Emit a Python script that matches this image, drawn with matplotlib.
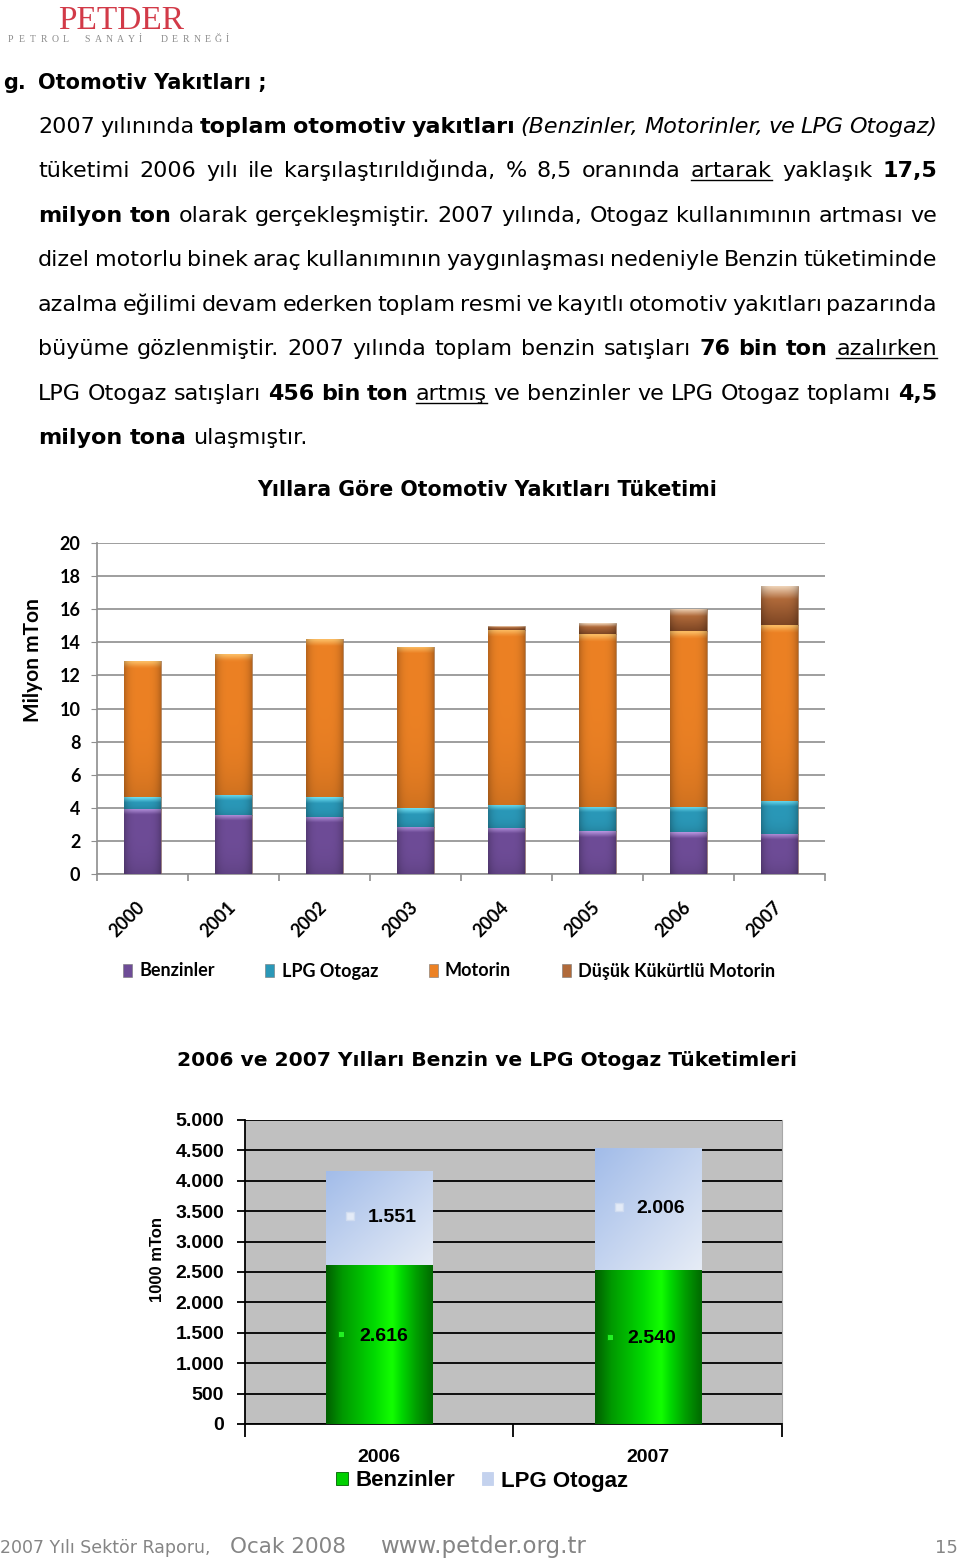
import matplotlib
matplotlib.use("Agg")
import matplotlib.pyplot as plt
import numpy as np
from matplotlib import font_manager as fm
from matplotlib.patches import Patch
from matplotlib.lines import Line2D
from matplotlib.colors import to_rgb
from matplotlib.transforms import offset_copy

# --- veri: grafik 1 (milyon ton) ---
yillar = ['2000', '2001', '2002', '2003', '2004', '2005', '2006', '2007']
benzinler = [3.93, 3.57, 3.47, 2.86, 2.78, 2.58, 2.52, 2.42]
lpg_otogaz = [0.71, 1.21, 1.17, 1.13, 1.39, 1.49, 1.55, 2.02]
motorin = [8.20, 8.51, 9.53, 9.74, 10.59, 10.45, 10.61, 10.58]
dusuk_kukurtlu = [0.0, 0.0, 0.0, 0.0, 0.22, 0.64, 1.35, 2.36]

# --- veri: grafik 2 (1000 ton) ---
yillar_2 = ['2006', '2007']
benzin_2 = [2616, 2540]
lpg_2 = [1551, 2006]

W, H = 960, 1560


def fx(x):
    return x / W


def fy(y):
    return 1 - y / H


def has_font(name):
    try:
        fm.findfont(fm.FontProperties(family=name), fallback_to_default=False)
        return True
    except Exception:
        return False


if has_font('Liberation Sans Narrow'):
    body_font, size0 = 'Liberation Sans Narrow', 19.0
elif has_font('DejaVu Sans Condensed'):
    body_font, size0 = 'DejaVu Sans Condensed', 16.0
else:
    body_font, size0 = 'DejaVu Sans', 16.0
calibri = 'Lato' if has_font('Lato') else 'DejaVu Sans'
arial = 'Liberation Sans' if has_font('Liberation Sans') else 'DejaVu Sans'
serif = 'Liberation Serif' if has_font('Liberation Serif') else 'DejaVu Serif'

fig = plt.figure(figsize=(9.6, 15.6), dpi=100)
renderer = fig.canvas.get_renderer()

# --- logo ---
fig.text(fx(58), fy(29), 'PETDER', family=serif, fontsize=24, color='#d23a48', va='baseline')
alt = 'PETROL SANAYİ DERNEĞİ'
for i, ch in enumerate(alt):
    fig.text(fx(8 + i * 10.9), fy(42), ch, family=serif, fontsize=7, color='#8c8c8c', va='baseline')

# --- başlık + metin ---
satirlar = [
    [('2007 yılınında', ''), ('toplam otomotiv yakıtları', 'b'),
     ('(Benzinler, Motorinler, ve LPG Otogaz)', 'i')],
    [('tüketimi 2006 yılı ile karşılaştırıldığında, % 8,5 oranında', ''), ('artarak', 'u'),
     ('yaklaşık', ''), ('17,5', 'b')],
    [('milyon ton', 'b'), ('olarak gerçekleşmiştir. 2007 yılında, Otogaz kullanımının artması ve', '')],
    [('dizel motorlu binek araç kullanımının yaygınlaşması nedeniyle Benzin tüketiminde', '')],
    [('azalma eğilimi devam ederken toplam resmi ve kayıtlı otomotiv yakıtları pazarında', '')],
    [('büyüme gözlenmiştir. 2007 yılında toplam benzin satışları', ''), ('76 bin ton', 'b'),
     ('azalırken', 'u')],
    [('LPG Otogaz satışları', ''), ('456 bin ton', 'b'), ('artmış', 'u'),
     ('ve benzinler ve LPG Otogaz toplamı', ''), ('4,5', 'b')],
    [('milyon tona', 'b'), ('ulaşmıştır.', '')],
]
satir_y = [124, 168, 213, 257, 302, 346, 391, 435]
X0, X1 = 38, 937


def kelime_yaz(word, st, size):
    return fig.text(0, 0, word, fontsize=size, family=body_font,
                    weight='bold' if 'b' in st else 'normal',
                    style='italic' if 'i' in st else 'normal', va='baseline', ha='left')


def kelimeler(parts):
    out = []
    for txt, st in parts:
        for w in txt.split():
            out.append((w, st))
    return out


# yazı boyutunu en uzun satıra göre ayarla
size = size0
probe = kelime_yaz('a a', '', size)
probe2 = kelime_yaz('aa', '', size)
bosluk = probe.get_window_extent(renderer).width - probe2.get_window_extent(renderer).width
probe.remove()
probe2.remove()
enuzun = 0
for parts in satirlar[:-1]:
    ws = kelimeler(parts)
    ts = [kelime_yaz(w, st, size) for w, st in ws]
    tot = sum(t.get_window_extent(renderer).width for t in ts) + bosluk * 0.6 * (len(ts) - 1)
    enuzun = max(enuzun, tot)
    for t in ts:
        t.remove()
if enuzun > (X1 - X0):
    size *= (X1 - X0) / enuzun

for k, parts in enumerate(satirlar):
    ws = kelimeler(parts)
    base = satir_y[k] + 9
    ts = [kelime_yaz(w, st, size) for w, st in ws]
    wid = [t.get_window_extent(renderer).width for t in ts]
    if k < len(satirlar) - 1:
        gap = (X1 - X0 - sum(wid)) / (len(ts) - 1)
    else:
        gap = bosluk * size / size0
    x = X0
    for t, w, (word, st) in zip(ts, wid, ws):
        t.set_position((fx(x), fy(base)))
        if 'u' in st:
            fig.add_artist(Line2D([fx(x), fx(x + w)], [fy(base + 3)] * 2, color='black', lw=1))
        x += w + gap

fig.text(fx(3), fy(89), 'g.', family='DejaVu Sans', weight='bold', fontsize=15, va='baseline')
fig.text(fx(38), fy(89), 'Otomotiv Yakıtları ;', family='DejaVu Sans', weight='bold', fontsize=15,
         va='baseline')


def golgele(ax, patch, base, light, ppu, bevel=6, full=False, dark=None):
    x0, y0 = patch.get_x(), patch.get_y()
    w, h = patch.get_width(), patch.get_height()
    if h <= 0:
        return
    n = 80
    rows = np.linspace(0, 1, n)
    b = np.array(to_rgb(base))
    l = np.array(to_rgb(light))
    if full:
        d = np.array(to_rgb(dark))
        t = rows[:, None]
        col = np.where(t < 0.35, l * (1 - t / 0.35) + b * (t / 0.35),
                       b * (1 - (t - 0.35) / 0.65) + d * ((t - 0.35) / 0.65))
    else:
        frac = min(0.45, bevel / (h * ppu))
        t = np.clip(rows / frac, 0, 1)[:, None]
        col = l * (1 - t) + b * t
        col = col * (1 - 0.12 * rows[:, None] ** 4)
    cols = np.linspace(-1, 1, 40)
    fac = 1 - 0.22 * np.abs(cols) ** 4
    img = np.clip(col[:, None, :] * fac[None, :, None], 0, 1)
    im = ax.imshow(img, extent=(x0, x0 + w, y0, y0 + h), origin='upper', aspect='auto',
                   zorder=3.5, interpolation='bilinear')
    im.set_clip_path(patch)


# --- grafik 1 ---
ax1 = fig.add_axes([fx(97), fy(874), (825 - 97) / W, (874 - 543) / H])
x = np.arange(len(yillar))
ppu1 = (874 - 543) / 20.0
seriler = [
    (benzinler, 'Benzinler', '#6e4c97', '#b896e0', False, None),
    (lpg_otogaz, 'LPG Otogaz', '#2a98b8', '#70e2f5', False, None),
    (motorin, 'Motorin', '#ec8124', '#fbbb62', False, None),
    (dusuk_kukurtlu, 'Düşük Kükürtlü Motorin', '#b06a3a', '#f4dcc2', True, '#7e4624'),
]
alt_deger = np.zeros(len(yillar))
handles = []
for vals, ad, c, lc, full, dk in seriler:
    bars = ax1.bar(x, vals, 0.4, bottom=alt_deger, color=c, edgecolor='#8a6a50', lw=0.4, zorder=3)
    for b in bars:
        golgele(ax1, b, c, lc, ppu1, full=full, dark=dk)
    alt_deger = alt_deger + np.array(vals)
    handles.append(Patch(facecolor=c, edgecolor='#777777', lw=0.4, label=ad))

ax1.set_xlim(-0.5, len(yillar) - 0.5)
ax1.set_ylim(0, 20)
ax1.set_yticks(range(0, 21, 2))
ax1.set_axisbelow(True)
ax1.grid(axis='y', color='#8e8e8e', lw=1.2)
for s in ['top', 'right']:
    ax1.spines[s].set_visible(False)
for s in ['left', 'bottom']:
    ax1.spines[s].set_color('#8e8e8e')
    ax1.spines[s].set_linewidth(1.2)
ax1.tick_params(axis='y', length=4, color='#8e8e8e', labelsize=13, pad=8)
ax1.set_xticks(x)
ax1.set_xticklabels(yillar, rotation=45, ha='right', va='center', rotation_mode='anchor')
ax1.set_xticks(np.arange(-0.5, len(yillar)), minor=True)
ax1.tick_params(axis='x', which='major', length=0, labelsize=13, pad=22)
ax1.tick_params(axis='x', which='minor', length=5, color='#8e8e8e', width=1.2)
for lab in ax1.get_xticklabels() + ax1.get_yticklabels():
    lab.set_family(calibri)
    lab.set_weight('bold')

fig.text(fx(487), fy(490), 'Yıllara Göre Otomotiv Yakıtları Tüketimi', ha='center', va='center',
         fontsize=14.8, weight='bold', family='DejaVu Sans')
fig.text(fx(33), fy(660), 'Milyon mTon', rotation=90, ha='center', va='center', fontsize=15,
         weight='bold', family=calibri)
fig.legend(handles=handles, loc='center', bbox_to_anchor=(fx(449), fy(971)), ncol=4, frameon=False,
           prop={'family': calibri, 'weight': 'bold', 'size': 13}, handlelength=0.5,
           handleheight=0.7, handletextpad=0.4, columnspacing=2.8)

# --- grafik 2 ---
ax2 = fig.add_axes([fx(245), fy(1424), (782 - 245) / W, (1424 - 1120) / H])
ax2.set_facecolor('#c0c0c0')
x2 = np.arange(len(yillar_2))
b1 = ax2.bar(x2, benzin_2, 0.395, color='#00c800', zorder=3)
b2 = ax2.bar(x2, lpg_2, 0.395, bottom=benzin_2, color='#c8d6f0', zorder=3)


def yesil(ax, patch):
    x0, y0 = patch.get_x(), patch.get_y()
    w, h = patch.get_width(), patch.get_height()
    t = np.linspace(0, 1, 60)
    prof = np.interp(t, [0, 0.15, 0.62, 0.85, 1], [0.38, 0.6, 1.0, 0.62, 0.42])
    img = np.zeros((2, 60, 3))
    img[:, :, 1] = prof
    img[:, :, 0] = np.clip(prof - 0.85, 0, 1) * 0.5
    im = ax.imshow(img, extent=(x0, x0 + w, y0, y0 + h), aspect='auto', zorder=3.5,
                   interpolation='bilinear')
    im.set_clip_path(patch)


def mavi(ax, patch):
    x0, y0 = patch.get_x(), patch.get_y()
    w, h = patch.get_width(), patch.get_height()
    u = np.linspace(0, 1, 50)
    gx, gy = np.meshgrid(u, u)
    t = np.clip((gx + gy) / 2, 0, 1)[..., None]
    a = np.array(to_rgb('#a2bce9'))
    c = np.array(to_rgb('#e6ecf6'))
    img = a * (1 - t) + c * t
    im = ax.imshow(img, extent=(x0, x0 + w, y0, y0 + h), origin='upper', aspect='auto', zorder=3.5,
                   interpolation='bilinear')
    im.set_clip_path(patch)


for b in b1:
    yesil(ax2, b)
for b in b2:
    mavi(ax2, b)

ax2.set_xlim(-0.5, 1.5)
ax2.set_ylim(0, 5000)
ax2.set_yticks(range(0, 5001, 500))
ax2.set_yticklabels([f'{v:,}'.replace(',', '.') for v in range(0, 5001, 500)])
ax2.set_axisbelow(True)
ax2.grid(axis='y', color='black', lw=1.3)
ax2.spines['top'].set_visible(False)
ax2.spines['right'].set_color('#a8a8a8')
for s in ['left', 'bottom']:
    ax2.spines[s].set_color('black')
    ax2.spines[s].set_linewidth(1.3)
ax2.tick_params(axis='y', length=6, width=1.3, labelsize=14, pad=9)
ax2.set_xticks(x2)
ax2.set_xticklabels(yillar_2)
ax2.set_xticks([-0.5, 0.5, 1.5], minor=True)
ax2.tick_params(axis='x', which='major', length=0, labelsize=14, pad=18)
ax2.tick_params(axis='x', which='minor', length=9, width=1.3, color='black')
for lab in ax2.get_xticklabels() + ax2.get_yticklabels():
    lab.set_family(arial)
    lab.set_weight('bold')

# veri etiketleri
for i in range(len(yillar_2)):
    ym = benzin_2[i] + lpg_2[i] / 2
    ax2.annotate(f'{lpg_2[i]:,}'.replace(',', '.'), (x2[i], ym), xytext=(-11, 0),
                 textcoords='offset pixels', ha='left', va='center', fontsize=14, weight='bold',
                 family=arial, zorder=5)
    tr = offset_copy(ax2.transData, fig=fig, x=-29, y=2, units='dots')
    ax2.plot(x2[i], ym, marker='s', ms=6, color='#e4ebf7', mec='#d0dcf0', transform=tr, zorder=5)
    yb = benzin_2[i] / 2
    ax2.annotate(f'{benzin_2[i]:,}'.replace(',', '.'), (x2[i], yb), xytext=(-20, 8),
                 textcoords='offset pixels', ha='left', va='center', fontsize=14, weight='bold',
                 family=arial, zorder=5)
    tr = offset_copy(ax2.transData, fig=fig, x=-38, y=10, units='dots')
    ax2.plot(x2[i], yb, marker='s', ms=4.5, color='#22f022', mec='#009000', mew=0.6, transform=tr,
             zorder=5)

fig.text(fx(487), fy(1060), '2006 ve 2007 Yılları Benzin ve LPG Otogaz Tüketimleri', ha='center',
         va='center', fontsize=14.6, weight='bold', family='DejaVu Sans')
fig.text(fx(157), fy(1260), '1000 mTon', rotation=90, ha='center', va='center', fontsize=12,
         weight='bold', family=arial)
h2 = [Patch(facecolor='#00d000', edgecolor='#006000', lw=0.6, label='Benzinler'),
      Patch(facecolor='#c4d2ee', edgecolor='#c4d2ee', lw=0.6, label='LPG Otogaz')]
fig.legend(handles=h2, loc='center', bbox_to_anchor=(fx(482), fy(1481)), ncol=2, frameon=False,
           prop={'family': arial, 'weight': 'bold', 'size': 16}, handlelength=0.5,
           handleheight=0.5, handletextpad=0.35, columnspacing=1.2)

# --- alt bilgi ---
gri = '#858585'
fig.text(fx(0), fy(1553), '2007 Yılı Sektör Raporu,', fontsize=12.5, color=gri, family='DejaVu Sans',
         va='baseline')
fig.text(fx(230), fy(1553), 'Ocak 2008', fontsize=15.5, color=gri, family='DejaVu Sans', va='baseline')
fig.text(fx(380), fy(1553), 'www.petder.org.tr', fontsize=16.5, color=gri, family='DejaVu Sans',
         va='baseline')
fig.text(fx(958), fy(1553), '15', fontsize=13, color=gri, family='DejaVu Sans', va='baseline',
         ha='right')

fig.savefig('out.png', dpi=100, facecolor='white')
